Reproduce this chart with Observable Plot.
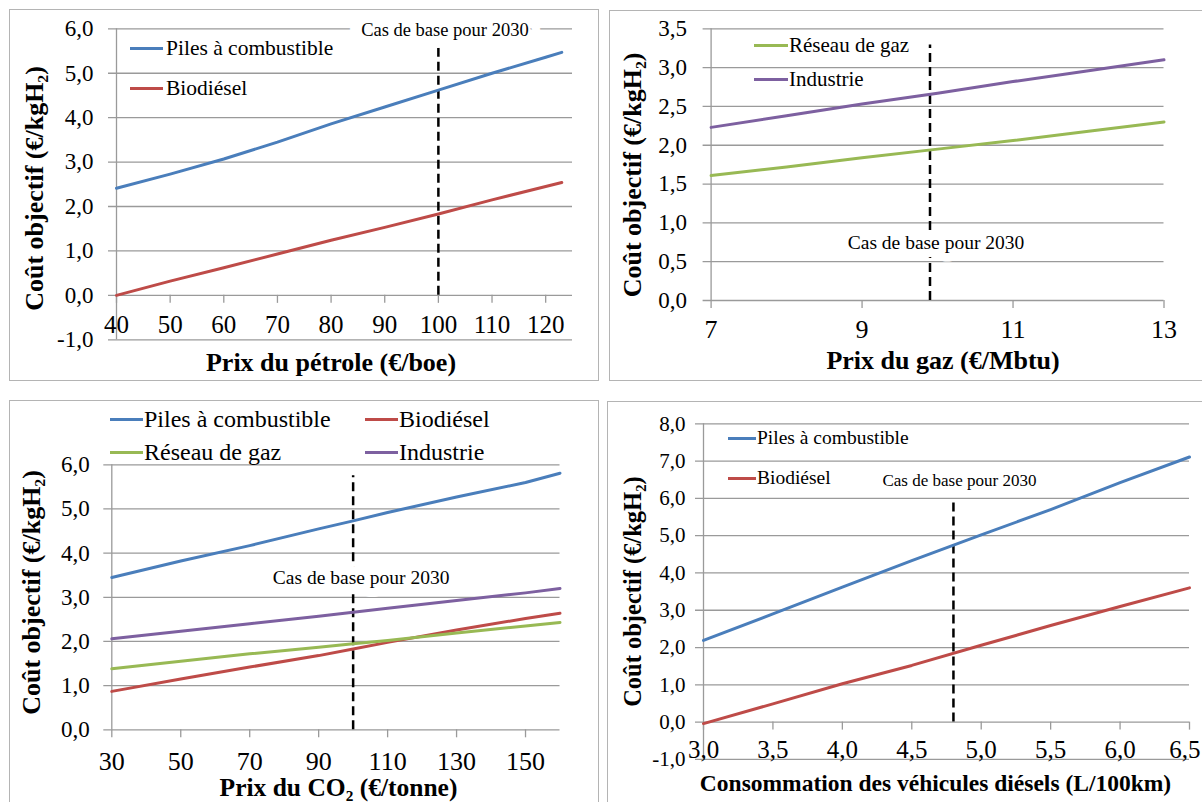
<!DOCTYPE html>
<html><head><meta charset="utf-8">
<script src="https://cdn.jsdelivr.net/npm/d3@7"></script>
<script src="https://cdn.jsdelivr.net/npm/@observablehq/plot@0.6"></script>
<style>
html,body{margin:0;padding:0;background:#fff;}
#page{position:relative;width:1202px;height:802px;overflow:hidden;background:#fff;font-family:"Liberation Serif","Times New Roman",serif;}
.panel{position:absolute;border:1.5px solid #b4b4b4;box-sizing:border-box;}
.chart{position:absolute;}
.leg{position:absolute;display:flex;align-items:center;white-space:nowrap;color:#000;height:30px;font-family:"Liberation Serif","Times New Roman",serif;}
.leg .sw{display:inline-block;height:3px;}
</style></head>
<body><div id="page"></div>
<script>
// ---------- Data ----------
const seriesNames = {fc: "Piles à combustible", bio: "Biodiésel", grid: "Réseau de gaz", ind: "Industrie"};
const seriesColors = {fc: "#4A7EBB", bio: "#BE4B48", grid: "#98B954", ind: "#7D60A0"};
const baseLabel = "Cas de base pour 2030";
const yTitle = "Coût objectif (€/kgH₂)";

// Panel 1: oil price
const oilPrice     = [40, 50, 60, 70, 80, 90, 100, 110, 120, 123];
const oilFuelCell  = [2.41, 2.73, 3.07, 3.45, 3.86, 4.24, 4.62, 5.00, 5.36, 5.47];
const oilBiodiesel = [0.00, 0.32, 0.62, 0.93, 1.24, 1.53, 1.83, 2.15, 2.45, 2.54];
const oilXTicks = [40, 50, 60, 70, 80, 90, 100, 110, 120];
const oilYTicks = [-1, 0, 1, 2, 3, 4, 5, 6];
const oilBase = 100;
const oilTitle = "Prix du pétrole (€/boe)";

// Panel 2: gas price
const gasPrice    = [7, 8, 9, 10, 11, 12, 13];
const gasGrid     = [1.61, 1.72, 1.84, 1.95, 2.06, 2.18, 2.30];
const gasIndustry = [2.23, 2.38, 2.53, 2.67, 2.82, 2.96, 3.10];
const gasXTicks = [7, 9, 11, 13];
const gasYTicks = [0, 0.5, 1, 1.5, 2, 2.5, 3, 3.5];
const gasBase = 9.9;
const gasTitle = "Prix du gaz (€/Mbtu)";

// Panel 3: CO2 price
const co2Price     = [30, 50, 70, 90, 100, 110, 130, 150, 160];
const co2FuelCell  = [3.45, 3.82, 4.17, 4.55, 4.73, 4.92, 5.27, 5.60, 5.81];
const co2Biodiesel = [0.87, 1.15, 1.42, 1.68, 1.83, 1.98, 2.26, 2.52, 2.64];
const co2Grid      = [1.38, 1.55, 1.72, 1.87, 1.95, 2.02, 2.19, 2.35, 2.43];
const co2Industry  = [2.06, 2.23, 2.40, 2.57, 2.66, 2.75, 2.93, 3.10, 3.20];
const co2XTicks = [30, 50, 70, 90, 110, 130, 150];
const co2YTicks = [0, 1, 2, 3, 4, 5, 6];
const co2Base = 100;
const co2Title = "Prix du CO₂ (€/tonne)";

// Panel 4: diesel vehicle consumption
const dieselCons      = [3.0, 3.5, 4.0, 4.5, 5.0, 5.5, 6.0, 6.5];
const dieselFuelCell  = [2.19, 2.90, 3.62, 4.33, 5.02, 5.70, 6.42, 7.11];
const dieselBiodiesel = [-0.04, 0.49, 1.03, 1.52, 2.06, 2.59, 3.10, 3.60];
const dieselXTicks = [3.0, 3.5, 4.0, 4.5, 5.0, 5.5, 6.0, 6.5];
const dieselYTicks = [-1, 0, 1, 2, 3, 4, 5, 6, 7, 8];
const dieselBase = 4.8;
const dieselTitle = "Consommation des véhicules diésels (L/100km)";

// ---------- Drawing ----------
const comma1 = d => d.toFixed(1).replace(".", ",");
const page = document.getElementById("page");
const GRID = "#9a9a9a";

function addBox(l, t, w, h) {
  const b = document.createElement("div");
  b.className = "panel";
  Object.assign(b.style, {left: l + "px", top: t + "px", width: w + "px", height: h + "px"});
  page.appendChild(b);
}

function drawPanel(c) {
  const xMax = c.xDomain[1];
  const marks = [
    Plot.ruleY(c.yTicks, {stroke: GRID, strokeWidth: 1.3, insetLeft: -8}),
    Plot.ruleX([c.xDomain[0]], {stroke: GRID, strokeWidth: 1.3}),
    Plot.ruleX(c.xTicks, {x: d => d, y1: 0, y2: 0, insetBottom: -8, stroke: GRID, strokeWidth: 1.3}),
    Plot.axisY({ticks: c.yTicks, tickSize: 0, tickPadding: c.yPad, tickFormat: comma1, fontSize: c.yFont, label: null}),
    Plot.text(c.xTicks.filter(t => !(c.lastEnd && t === xMax)),
      {x: d => d, y: 0, dy: c.xDy, text: c.xFmt, fontSize: c.xFont, lineAnchor: "middle"}),
    Plot.text(c.xTicks.filter(t => c.lastEnd && t === xMax),
      {x: d => d, y: 0, dy: c.xDy, dx: c.lastDx, text: c.xFmt, fontSize: c.xFont, lineAnchor: "middle", textAnchor: "end"}),
    Plot.ruleX([c.base], {y1: 0, y2: c.baseTop, stroke: "#000", strokeWidth: 2.5, strokeDasharray: "9,5"}),
    Plot.text([baseLabel], {x: c.base, y: c.annY, dx: c.annDx, dy: c.annDy || 0, fontSize: c.annFont,
      fill: "#000", stroke: "white", strokeWidth: c.halo, strokeLinejoin: "round", lineAnchor: "middle"}),
    ...c.series.map(s => Plot.line(c.x.map((xv, i) => ({x: xv, y: s.values[i]})),
      {x: "x", y: "y", stroke: seriesColors[s.key], strokeWidth: 3})),
    Plot.text([yTitle], {frameAnchor: "left", rotate: -90, dx: c.ytDx, dy: c.ytDy, fontSize: c.ytFont,
      fontWeight: "bold", textAnchor: "middle", lineAnchor: "middle"}),
    Plot.text([c.title], {frameAnchor: "bottom", dx: c.xtDx, dy: c.xtDy, fontSize: c.xtFont,
      fontWeight: "bold", textAnchor: "middle", lineAnchor: "middle"})
  ];
  const svg = Plot.plot({
    width: c.w, height: c.h,
    marginLeft: c.m[0], marginRight: c.m[1], marginTop: c.m[2], marginBottom: c.m[3],
    x: {domain: c.xDomain, axis: null},
    y: {domain: c.yDomain, axis: null},
    style: {fontFamily: '"Liberation Serif", "Times New Roman", serif', fontSize: "20px", color: "#000", background: "transparent"},
    marks
  });
  const wrap = document.createElement("div");
  wrap.className = "chart";
  Object.assign(wrap.style, {left: c.left + "px", top: c.top + "px", width: c.w + "px", height: c.h + "px", overflow: "hidden"});
  wrap.appendChild(svg);
  page.appendChild(wrap);
  // legend
  c.legend.forEach(it => {
    const d = document.createElement("div");
    d.className = "leg";
    Object.assign(d.style, {left: it.left + "px", top: (it.cy - 15) + "px", fontSize: c.legFont + "px"});
    const sw = document.createElement("span");
    sw.className = "sw";
    Object.assign(sw.style, {width: c.legW + "px", background: seriesColors[it.key], marginRight: c.legGap + "px"});
    d.appendChild(sw);
    d.appendChild(document.createTextNode(seriesNames[it.key]));
    page.appendChild(d);
  });
}

addBox(9, 9, 590, 372);
addBox(609, 10, 610, 371);
addBox(9, 400, 590, 420);
addBox(607, 401, 610, 420);

drawPanel({
  left: 10, top: 10, w: 588, h: 370, m: [106, 26, 18.3, 40.7],
  xDomain: [40, 125], yDomain: [-1, 6], x: oilPrice,
  series: [{key: "fc", values: oilFuelCell}, {key: "bio", values: oilBiodiesel}],
  xTicks: oilXTicks, yTicks: oilYTicks, xFmt: d => String(d),
  yPad: 23, yFont: 23, xDy: 29.3, xFont: 25,
  base: oilBase, baseTop: 5.58, annY: 6, annDx: 6.5, annDy: 1.7, annFont: 18.5, halo: 24,
  ytDx: -81.5, ytDy: 4.2, ytFont: 26,
  title: oilTitle, xtDx: -13.5, xtDy: 22.7, xtFont: 26,
  legend: [{key: "fc", left: 130, cy: 48}, {key: "bio", left: 130, cy: 88}], legFont: 21.5, legW: 33, legGap: 3
});

drawPanel({
  left: 610, top: 10, w: 592, h: 370, m: [100.6, 38.5, 18.3, 80],
  xDomain: [7, 13], yDomain: [0, 3.5], x: gasPrice,
  series: [{key: "grid", values: gasGrid}, {key: "ind", values: gasIndustry}],
  xTicks: gasXTicks, yTicks: gasYTicks, xFmt: d => String(d),
  yPad: 24, yFont: 23, xDy: 29, xFont: 26,
  base: gasBase, baseTop: 3.29, annY: 0.74, annDx: 6, annFont: 19.5, halo: 17,
  ytDx: -78, ytDy: 10.3, ytFont: 26,
  title: gasTitle, xtDx: 5.5, xtDy: 60, xtFont: 26,
  legend: [{key: "grid", left: 754, cy: 45}, {key: "ind", left: 754, cy: 79}], legFont: 21, legW: 34, legGap: 1
});

drawPanel({
  left: 10, top: 400, w: 588, h: 402, m: [101.3, 38.5, 64.3, 72.7],
  xDomain: [30, 160], yDomain: [0, 6], x: co2Price,
  series: [{key: "fc", values: co2FuelCell}, {key: "bio", values: co2Biodiesel},
           {key: "grid", values: co2Grid}, {key: "ind", values: co2Industry}],
  xTicks: co2XTicks, yTicks: co2YTicks, xFmt: d => String(d),
  yPad: 22, yFont: 23, xDy: 31.7, xFont: 26,
  base: co2Base, baseTop: 5.75, annY: 3.45, annDx: 8, annFont: 19.5, halo: 18,
  ytDx: -80.6, ytDy: -4.8, ytFont: 26,
  title: co2Title, xtDx: 2.6, xtDy: 58.5, xtFont: 25.5,
  legend: [{key: "fc", left: 110, cy: 419}, {key: "bio", left: 365, cy: 419},
           {key: "grid", left: 110, cy: 452}, {key: "ind", left: 365, cy: 452}], legFont: 24, legW: 33, legGap: 1
});

drawPanel({
  left: 608, top: 401, w: 594, h: 401, m: [95, 13, 22.3, 43.1],
  xDomain: [3, 6.5], yDomain: [-1, 8], x: dieselCons,
  series: [{key: "fc", values: dieselFuelCell}, {key: "bio", values: dieselBiodiesel}],
  xTicks: dieselXTicks, yTicks: dieselYTicks, xFmt: comma1, lastEnd: true, lastDx: 11,
  yPad: 18, yFont: 21, xDy: 28.3, xFont: 25,
  base: dieselBase, baseTop: 5.9, annY: 6.48, annDx: 6, annFont: 17, halo: 0,
  ytDx: -70.4, ytDy: 0, ytFont: 24.5,
  title: dieselTitle, xtDx: -11, xtDy: 24.1, xtFont: 23.5,
  legend: [{key: "fc", left: 728, cy: 438}, {key: "bio", left: 728, cy: 478}], legFont: 19.5, legW: 28, legGap: 1
});
</script>
</body></html>
